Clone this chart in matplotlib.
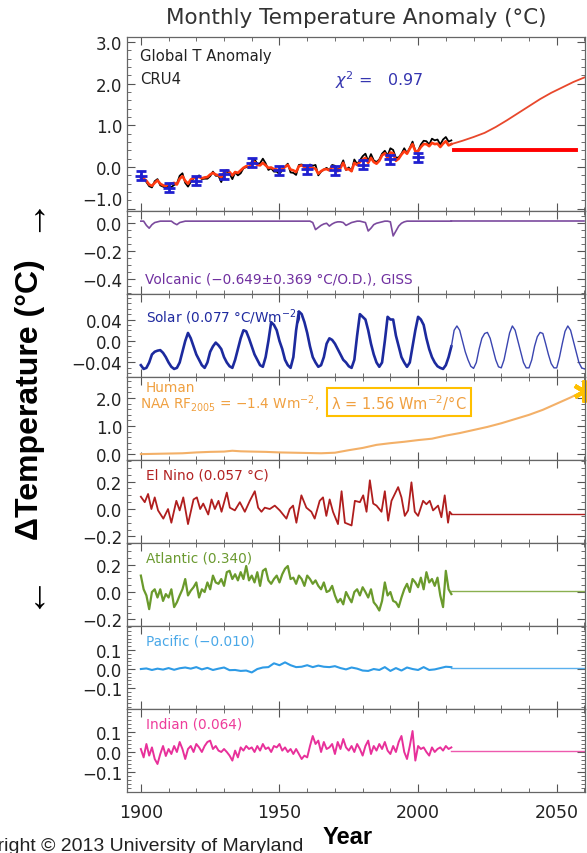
import numpy as np
import matplotlib.pyplot as plt
from matplotlib.ticker import MultipleLocator, FixedLocator

plt.rcParams['font.family'] = ['DejaVu Sans']

# ---- data ----
years = np.arange(1900, 2013)

cru_obs = [-0.20, -0.27, -0.36, -0.46, -0.49, -0.34, -0.29, -0.44, -0.47, -0.50,
           -0.46, -0.48, -0.43, -0.40, -0.21, -0.15, -0.38, -0.47, -0.36, -0.27,
           -0.27, -0.20, -0.29, -0.28, -0.28, -0.22, -0.11, -0.21, -0.21, -0.36,
           -0.16, -0.10, -0.16, -0.29, -0.13, -0.20, -0.15, -0.03, 0.00, -0.02,
           0.13, 0.19, 0.07, 0.09, 0.20, 0.09, -0.07, -0.03, -0.11, -0.11,
           -0.17, -0.07, 0.01, 0.08, -0.13, -0.14, -0.19, 0.05, 0.06, 0.03,
           -0.03, 0.06, 0.03, 0.05, -0.20, -0.11, -0.06, -0.02, -0.08, 0.05,
           0.03, -0.08, 0.01, 0.16, -0.07, -0.01, -0.10, 0.18, 0.07, 0.16,
           0.26, 0.32, 0.14, 0.31, 0.16, 0.12, 0.18, 0.32, 0.39, 0.27,
           0.45, 0.41, 0.22, 0.23, 0.32, 0.45, 0.33, 0.46, 0.61, 0.38,
           0.39, 0.54, 0.63, 0.62, 0.54, 0.68, 0.64, 0.66, 0.54, 0.66,
           0.72, 0.61, 0.64]

model_fit = [-0.25, -0.28, -0.33, -0.42, -0.45, -0.38, -0.32, -0.40, -0.44, -0.45,
             -0.42, -0.40, -0.38, -0.42, -0.28, -0.22, -0.33, -0.40, -0.30, -0.26,
             -0.25, -0.24, -0.27, -0.25, -0.24, -0.18, -0.14, -0.18, -0.20, -0.25,
             -0.13, -0.08, -0.12, -0.20, -0.12, -0.14, -0.08, -0.02, 0.02, 0.00,
             0.08, 0.12, 0.05, 0.04, 0.10, 0.04, -0.02, -0.01, -0.05, -0.06,
             -0.10, -0.04, 0.00, 0.05, -0.06, -0.08, -0.12, 0.02, 0.04, 0.00,
             -0.03, 0.00, -0.02, -0.04, -0.16, -0.10, -0.06, -0.05, -0.08, 0.00,
             -0.02, -0.10, -0.02, 0.10, -0.06, -0.05, -0.10, 0.10, 0.05, 0.12,
             0.18, 0.22, 0.10, 0.22, 0.12, 0.08, 0.15, 0.28, 0.33, 0.22,
             0.35, 0.33, 0.15, 0.20, 0.30, 0.38, 0.32, 0.44, 0.55, 0.38,
             0.38, 0.48, 0.55, 0.55, 0.50, 0.58, 0.55, 0.56, 0.48, 0.56,
             0.62, 0.52, 0.55]

proj_years = [2012, 2016, 2020, 2024, 2028, 2032, 2036, 2040, 2044, 2048, 2052, 2056, 2060]
proj_vals = [0.55, 0.63, 0.72, 0.82, 0.96, 1.12, 1.29, 1.46, 1.63, 1.78, 1.91, 2.04, 2.15]
flat_years = [2013, 2057]
flat_val = 0.42

dec_years = [1900, 1910, 1920, 1930, 1940, 1950, 1960, 1970, 1980, 1990, 2000]
dec_vals = [-0.21, -0.50, -0.33, -0.17, 0.10, -0.08, -0.05, -0.08, 0.06, 0.19, 0.23]
dec_err = [0.11] * 11

volcanic = [0.01, 0.01, -0.02, -0.04, -0.015, 0.0, 0.005, 0.01, 0.01, 0.01,
            0.01, 0.01, -0.005, -0.015, 0.0, 0.005, 0.01, 0.01, 0.01, 0.01,
            0.01, 0.01, 0.01, 0.01, 0.01, 0.01, 0.01, 0.01, 0.01, 0.01,
            0.01, 0.01, 0.01, 0.01, 0.01, 0.01, 0.01, 0.01, 0.01, 0.01,
            0.01, 0.01, 0.01, 0.01, 0.01, 0.01, 0.01, 0.01, 0.01, 0.01,
            0.01, 0.01, 0.01, 0.01, 0.01, 0.01, 0.01, 0.01, 0.01, 0.01,
            0.01, 0.01, 0.0, -0.05, -0.035, -0.02, -0.01, -0.005, -0.025, -0.01,
            0.0, 0.005, 0.005, 0.0, -0.02, -0.01, 0.0, 0.005, 0.01, 0.01,
            0.005, 0.0, -0.06, -0.04, -0.015, -0.005, 0.0, 0.005, 0.01, 0.01,
            0.005, -0.095, -0.06, -0.025, -0.005, 0.005, 0.01, 0.01, 0.01, 0.01,
            0.01, 0.01, 0.01, 0.01, 0.01, 0.01, 0.01, 0.01, 0.01, 0.01,
            0.01, 0.01, 0.01]

solar_hist = [-0.045, -0.052, -0.05, -0.04, -0.025, -0.02, -0.018, -0.017, -0.022, -0.03,
              -0.04, -0.048, -0.052, -0.05, -0.04, -0.02, 0.0, 0.015, 0.005, -0.01,
              -0.025, -0.035, -0.045, -0.05, -0.04, -0.02, -0.01, -0.003, -0.008, -0.015,
              -0.03, -0.04, -0.047, -0.05, -0.035, -0.015, 0.005, 0.02, 0.018, 0.005,
              -0.01, -0.025, -0.035, -0.045, -0.048, -0.03, 0.0, 0.035, 0.03, 0.02,
              0.0, -0.015, -0.035, -0.045, -0.05, -0.03, 0.02, 0.055, 0.05, 0.035,
              0.015, -0.01, -0.03, -0.04, -0.048, -0.045, -0.03, -0.005, 0.005, 0.002,
              -0.005, -0.015, -0.025, -0.035, -0.04, -0.047, -0.05, -0.035, 0.01, 0.05,
              0.045, 0.04, 0.02, -0.005, -0.025, -0.04, -0.048, -0.04, 0.0, 0.045,
              0.04, 0.04, 0.01, -0.01, -0.03, -0.04, -0.048, -0.04, -0.01, 0.02,
              0.045, 0.04, 0.03, 0.005, -0.015, -0.03, -0.04, -0.047, -0.05, -0.052,
              -0.045, -0.03, -0.01]

solar_proj_years = np.arange(2012, 2061)
solar_proj = [-0.01, 0.02, 0.028, 0.02, 0.0, -0.02, -0.035, -0.047, -0.051, -0.04,
              -0.015, 0.005, 0.014, 0.016, 0.005, -0.015, -0.035, -0.048, -0.05, -0.035,
              -0.01, 0.015, 0.028, 0.02, 0.0, -0.02, -0.04, -0.05, -0.05, -0.035,
              -0.01, 0.008, 0.016, 0.014, -0.005, -0.025, -0.042, -0.05, -0.05, -0.03,
              -0.005, 0.018, 0.028, 0.02, 0.0, -0.02, -0.04, -0.05, -0.052]

hum_years = [1900, 1905, 1910, 1915, 1920, 1925, 1930, 1933, 1936, 1940, 1945, 1950,
             1955, 1960, 1965, 1970, 1975, 1980, 1985, 1990, 1995, 2000, 2005, 2010,
             2015, 2020, 2025, 2030, 2035, 2040, 2045, 2050, 2055, 2060]
hum_vals = [0.0, 0.01, 0.02, 0.03, 0.06, 0.08, 0.09, 0.12, 0.10, 0.09, 0.08, 0.06,
            0.05, 0.04, 0.03, 0.05, 0.14, 0.22, 0.33, 0.39, 0.44, 0.50, 0.55, 0.66,
            0.75, 0.86, 0.97, 1.10, 1.25, 1.40, 1.58, 1.80, 2.02, 2.26]

enso_t = [1900.0, 1901.4, 1902.6, 1903.8, 1905.0, 1906.2, 1908.1, 1909.8, 1911.0, 1912.8,
          1914.0, 1915.3, 1917.0, 1919.0, 1920.2, 1921.4, 1922.5, 1924.3, 1925.5, 1926.7,
          1928.0, 1929.1, 1931.0, 1932.1, 1933.9, 1935.7, 1937.5, 1939.3, 1941.1, 1942.3,
          1943.5, 1944.7, 1946.5, 1948.3, 1950.1, 1951.3, 1952.5, 1953.7, 1954.9, 1956.1,
          1957.9, 1959.7, 1961.5, 1962.7, 1964.5, 1965.7, 1966.9, 1968.1, 1969.3, 1971.1,
          1972.4, 1973.6, 1974.8, 1976.0, 1977.2, 1979.0, 1980.2, 1981.4, 1982.6, 1983.8,
          1985.0, 1986.8, 1988.0, 1989.2, 1990.4, 1991.6, 1992.8, 1994.0, 1995.2, 1996.4,
          1997.6, 1998.8, 2000.0, 2001.8, 2003.0, 2004.2, 2005.4, 2007.2, 2008.4, 2009.6,
          2010.8, 2011.4, 2012.0]
enso_v = [0.09, 0.05, 0.11, 0.0, 0.085, -0.01, -0.07, 0.0, -0.1, 0.06,
          -0.01, 0.085, -0.11, 0.07, 0.085, 0.0, 0.04, -0.04, 0.07, 0.0,
          0.06, -0.02, 0.12, 0.01, -0.01, 0.05, -0.02, 0.06, 0.13, 0.01,
          -0.02, 0.01, 0.0, 0.025, -0.01, -0.04, -0.07, 0.0, 0.025, -0.1,
          0.1, 0.01, -0.02, -0.07, 0.06, 0.085, -0.05, 0.07, -0.02, -0.11,
          0.13, -0.1, -0.11, -0.12, 0.06, 0.05, 0.1, -0.02, 0.21, 0.04,
          0.025, -0.02, 0.13, -0.085, 0.06, 0.11, 0.16, 0.085, -0.05, -0.01,
          0.195, -0.02, -0.05, 0.06, 0.035, 0.06, -0.01, 0.025, -0.06, 0.1,
          -0.1, -0.02, -0.035]
enso_flat = -0.035

atlantic = [0.12, 0.02, -0.025, -0.125, 0.0, 0.02, -0.04, 0.02, -0.065, -0.015,
            -0.04, 0.02, -0.11, -0.075, -0.025, 0.02, 0.095, -0.025, 0.01, 0.035,
            0.07, -0.04, 0.02, 0.0, 0.07, 0.02, 0.12, 0.07, 0.06, 0.095,
            0.045, 0.145, 0.155, 0.095, 0.13, 0.085, 0.145, 0.095, 0.19, 0.085,
            0.12, 0.07, 0.145, 0.045, 0.155, 0.17, 0.085, 0.06, 0.095, 0.12,
            0.07, 0.13, 0.17, 0.19, 0.095, 0.105, 0.06, 0.12, 0.095, 0.045,
            0.12, 0.095, 0.06, 0.085, 0.045, 0.02, 0.07, 0.0, 0.01, 0.045,
            -0.025, -0.075, -0.05, -0.09, 0.0, -0.04, -0.075, 0.0, 0.02, -0.025,
            0.035, 0.0, -0.04, 0.02, -0.075, -0.1, -0.135, -0.065, 0.07, -0.025,
            0.0, -0.065, -0.075, -0.11, -0.04, 0.02, 0.06, 0.0, 0.095, 0.07,
            0.035, 0.105, 0.02, 0.145, 0.07, 0.095, 0.045, 0.105, -0.025, -0.11,
            0.155, 0.02, -0.015]
atlantic_flat = 0.005

pacific_years = np.arange(1900, 2013, 2)
pacific = [0.0, 0.003, -0.005, 0.002, -0.003, 0.005, -0.004, 0.004, 0.008, 0.002,
           0.01, -0.002, 0.006, -0.005, 0.002, 0.008, -0.006, -0.005, -0.01, -0.008,
           -0.018, 0.0, 0.008, 0.01, 0.03, 0.02, 0.035, 0.02, 0.01, 0.012,
           0.02, 0.01, 0.018, 0.012, 0.01, 0.015, 0.005, -0.002, 0.008, 0.002,
           -0.008, -0.01, 0.0, -0.005, 0.01, -0.01, 0.005, -0.008, 0.008, 0.0,
           -0.005, 0.01, -0.005, -0.002, 0.005, 0.012, 0.01]
pacific_flat = 0.005

indian = [0.015, -0.027, 0.04, -0.018, 0.023, -0.035, -0.06, -0.01, 0.03, -0.02,
          0.015, -0.01, 0.03, 0.0, 0.05, 0.015, -0.035, 0.015, 0.03, 0.0,
          0.04, 0.023, 0.0, 0.03, 0.05, 0.057, 0.015, 0.03, 0.007, 0.0,
          0.015, 0.0, -0.018, -0.043, 0.007, -0.027, 0.023, 0.007, 0.03, 0.015,
          0.023, 0.0, 0.03, 0.007, 0.04, 0.015, 0.023, 0.0, 0.03, 0.023,
          0.04, 0.007, 0.023, 0.0, 0.015, -0.01, 0.015, -0.01, -0.035, -0.018,
          -0.027, 0.03, 0.08, 0.04, 0.057, 0.0, 0.05, 0.015, 0.023, 0.04,
          -0.01, 0.05, 0.015, 0.065, 0.023, 0.007, 0.03, 0.0, 0.04, 0.015,
          -0.018, 0.03, 0.057, -0.01, 0.03, 0.007, 0.04, 0.015, 0.05, 0.007,
          -0.01, 0.03, 0.0, 0.05, 0.08, 0.0, -0.035, 0.03, 0.105, -0.043,
          0.03, 0.015, 0.023, 0.0, -0.018, 0.023, 0.0, 0.015, 0.023, 0.007,
          0.03, 0.015, 0.023]
indian_flat = 0.007

# ---- layout ----
W, H = 587, 854
fig = plt.figure(figsize=(W / 100, H / 100), dpi=100)
fig.patch.set_facecolor('white')

X0, X1 = 127, 585


def panel(top, bottom, ylim, major, minor):
    ax = fig.add_axes([X0 / W, 1 - bottom / H, (X1 - X0) / W, (bottom - top) / H])
    ax.set_xlim(1895, 2060.2)
    ax.set_ylim(*ylim)
    ax.xaxis.set_major_locator(MultipleLocator(50))
    ax.xaxis.set_minor_locator(MultipleLocator(10))
    ax.yaxis.set_major_locator(FixedLocator(major))
    ax.yaxis.set_minor_locator(MultipleLocator(minor))
    ax.tick_params(which='both', direction='in', top=True, right=True,
                   colors='#555555', labelcolor='#222222', labelsize=12)
    ax.tick_params(which='major', length=6, width=0.8)
    ax.tick_params(which='minor', length=3, width=0.6)
    ax.tick_params(axis='x', labelbottom=False)
    for s in ax.spines.values():
        s.set_color('#666666')
        s.set_linewidth(0.9)
    return ax


def ftxt(x, y, s, **kw):
    fig.text(x / W, 1 - y / H, s, **kw)


# global
ax = panel(38, 212, (-1.055, 3.12), [-1, 0, 1, 2, 3], 0.2)
ax.set_yticklabels(['−1.0', '0.0', '1.0', '2.0', '3.0'])
ax.get_yticklabels()[0].set_verticalalignment('bottom')
ax.plot(years, cru_obs, color='black', lw=1.3)
ax.plot(years, model_fit, color='#FF3A10', lw=1.9)
ax.plot(proj_years, proj_vals, color='#E8482C', lw=1.3)
ax.plot(flat_years, [flat_val, flat_val], color='#FF0000', lw=2.8)
ax.errorbar(dec_years, dec_vals, yerr=dec_err, fmt='_', color='#2020D0',
            ms=8, mew=2, elinewidth=2, capsize=3.5, capthick=2)

# volcanic
ax = panel(212, 295, (-0.507, 0.082), [-0.4, -0.2, 0.0], 0.05)
ax.set_yticklabels(['−0.4', '−0.2', '0.0'])
ax.plot(years, volcanic, color='#7B4A9E', lw=1.2)
ax.plot([2012, 2060], [volcanic[-1], volcanic[-1]], color='#7B4A9E', lw=1.2)

# solar
ax = panel(295, 378, (-0.067, 0.0875), [-0.04, 0.0, 0.04], 0.01)
ax.set_yticklabels(['−0.04', '0.0', '0.04'])
ax.plot(years, solar_hist, color='#1C2A9E', lw=1.9)
ax.plot(solar_proj_years, solar_proj, color='#3A45B0', lw=1.0)

# human
ax = panel(378, 461, (-0.21, 2.75), [0, 1, 2], 0.2)
ax.set_yticklabels(['0.0', '1.0', '2.0'])
ax.plot(hum_years, hum_vals, color='#F3B068', lw=1.5)
ax.plot(hum_years[-1], hum_vals[-1], marker=(6, 2, 0), ms=16, mew=3,
        color='#FFC000', clip_on=False)

# el nino
ax = panel(461, 544, (-0.248, 0.358), [-0.2, 0.0, 0.2], 0.05)
ax.set_yticklabels(['−0.2', '0.0', '0.2'])
ax.plot(enso_t, enso_v, color='#B01E1E', lw=1.3)
ax.plot([2012, 2060], [enso_flat, enso_flat], color='#B01E1E', lw=1.0)

# atlantic
ax = panel(544, 627, (-0.248, 0.358), [-0.2, 0.0, 0.2], 0.05)
ax.set_yticklabels(['−0.2', '0.0', '0.2'])
ax.plot(years, atlantic, color='#6A9A2C', lw=1.6)
ax.plot([2012, 2060], [atlantic_flat, atlantic_flat], color='#8AB050', lw=1.0)

# pacific
ax = panel(627, 710, (-0.21, 0.226), [-0.1, 0.0, 0.1], 0.02)
ax.set_yticklabels(['−0.1', '0.0', '0.1'])
ax.plot(pacific_years, pacific, color='#2E9BE6', lw=1.5)
ax.plot([2012, 2060], [pacific_flat, pacific_flat], color='#5AB0EE', lw=1.0)

# indian
ax = panel(710, 793, (-0.2, 0.215), [-0.1, 0.0, 0.1], 0.02)
ax.set_yticklabels(['−0.1', '0.0', '0.1'])
ax.plot(years, indian, color='#E8309A', lw=1.4)
ax.plot([2012, 2060], [indian_flat, indian_flat], color='#EE5AAE', lw=1.0)
ax.tick_params(axis='x', labelbottom=True, labelsize=12.5, pad=8)

# ---- texts ----
ftxt(356, 18, 'Monthly Temperature Anomaly (°C)', ha='center', va='center',
     fontsize=15.5, color='#333333')
ftxt(140, 57, 'Global T Anomaly', va='center', fontsize=10.7, color='#222222')
ftxt(140, 79, 'CRU4', va='center', fontsize=10.7, color='#222222')
ftxt(335, 80, r'$\chi^2$ =   0.97', va='center', fontsize=11.5, color='#3535B0')
ftxt(145, 280, 'Volcanic (−0.649±0.369 °C/O.D.), GISS', va='center',
     fontsize=9.8, color='#7030A0')
ftxt(146, 317, 'Solar (0.077 °C/Wm$^{-2}$)', va='center', fontsize=9.8,
     color='#1F2A9F')
ftxt(146, 388, 'Human', va='center', fontsize=9.8, color='#F0A040')
ftxt(140, 404, 'NAA RF$_{2005}$ = −1.4 Wm$^{-2}$,', va='center', fontsize=9.8,
     color='#F0A040')
ftxt(331, 403, 'λ = 1.56 Wm$^{-2}$/°C', va='center', fontsize=10.5, color='#F0A040',
     bbox=dict(boxstyle='square,pad=0.3', fc='none', ec='#FFC000', lw=1.5))
ftxt(146, 476, 'El Nino (0.057 °C)', va='center', fontsize=9.8, color='#B22222')
ftxt(146, 559, 'Atlantic (0.340)', va='center', fontsize=9.8, color='#6B9A30')
ftxt(146, 642, 'Pacific (−0.010)', va='center', fontsize=9.8, color='#4AA8E8')
ftxt(146, 725, 'Indian (0.064)', va='center', fontsize=9.8, color='#EE3C9A')

lab_font = ['Liberation Sans', 'DejaVu Sans']
ftxt(30, 400, 'ΔTemperature (°C)', rotation=90, ha='center', va='center',
     fontsize=23, fontweight='bold', family=lab_font)
ftxt(30, 213, '→', rotation=90, ha='center', va='center', fontsize=28,
     family=lab_font)
ftxt(30, 590, '←', rotation=90, ha='center', va='center', fontsize=28,
     family=lab_font)
ftxt(348, 838, 'Year', ha='center', va='center', fontsize=17,
     fontweight='bold', family=lab_font)
ftxt(-48, 838, 'Copyright © 2013 University of Maryland', va='top',
     fontsize=14, family=lab_font, color='#222222')

plt.savefig('out.png', dpi=100)
